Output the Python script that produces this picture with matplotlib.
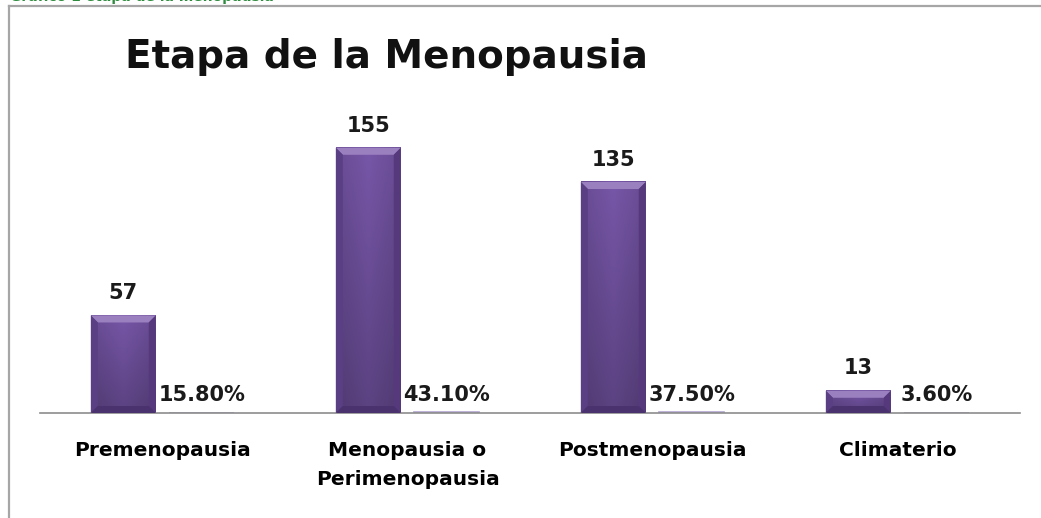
import numpy as np
import matplotlib.pyplot as plt
from matplotlib.patches import Polygon
from matplotlib.lines import Line2D
from matplotlib.colors import to_rgb

categories = ['Premenopausia', 'Menopausia o\nPerimenopausia', 'Postmenopausia', 'Climaterio']
counts = [57, 155, 135, 13]
percents = [0.158, 0.431, 0.375, 0.036]
pct_labels = ['15.80%', '43.10%', '37.50%', '3.60%']

W, H = 1041, 518
fig = plt.figure(figsize=(W / 100, H / 100), dpi=100)
ax = fig.add_axes([40 / W, 1 - 413 / H, 980 / W, (413 - 105) / H])
ax.set_xlim(-0.5, 3.5)
ax.set_ylim(0, 180)
ax.set_autoscale_on(False)

x = np.arange(len(categories))
w = 0.265
off = 0.16
base = np.array(to_rgb('#6a4d96'))

# px -> data units for the bevel
dx = 7 / 245
dy = 7 / 1.711

for xi, c in zip(x - off, counts):
    x0, x1 = xi - w / 2, xi + w / 2
    # body with soft vertical / horizontal shading
    ny, nx = 60, 30
    vy = np.linspace(1.12, 0.86, ny)[:, None]
    hx = 1 - 0.12 * np.abs(np.linspace(-1, 1, nx))[None, :]
    img = np.clip(base[None, None, :] * (vy * hx)[:, :, None], 0, 1)
    ax.imshow(img, extent=[x0, x1, 0, c], aspect='auto', zorder=2, interpolation='bilinear')
    # bevel edges
    ax.add_patch(Polygon([(x0, c), (x1, c), (x1 - dx, c - dy), (x0 + dx, c - dy)],
                         closed=True, color='#9b80c0', lw=0, zorder=3))
    ax.add_patch(Polygon([(x0, 0), (x0, c), (x0 + dx, c - dy), (x0 + dx, dy)],
                         closed=True, color='#5a3f84', lw=0, zorder=3))
    ax.add_patch(Polygon([(x1, 0), (x1, c), (x1 - dx, c - dy), (x1 - dx, dy)],
                         closed=True, color='#55397c', lw=0, zorder=3))
    ax.add_patch(Polygon([(x0, 0), (x1, 0), (x1 - dx, dy), (x0 + dx, dy)],
                         closed=True, color='#4a326e', lw=0, zorder=3))
    ax.text(xi, c + 9.5, str(c), ha='center', va='baseline', fontsize=15,
            fontweight='bold', color='#1a1a1a')

ax.bar(x + off, percents, w, color='#b3a4d0', edgecolor='#b3a4d0', linewidth=1.2, zorder=2)
for xi, lab in zip(x + off, pct_labels):
    ax.text(xi, 7.2, lab, ha='center', va='baseline', fontsize=15, fontweight='bold',
            color='#1a1a1a')

ax.set_xticks(x)
ax.set_xticklabels(categories, fontsize=14.5, fontweight='bold', linespacing=1.7)
ax.tick_params(axis='x', length=0, pad=20)
ax.set_yticks([])
for s in ['top', 'right', 'left']:
    ax.spines[s].set_visible(False)
ax.spines['bottom'].set_color('#8c8c8c')
ax.spines['bottom'].set_linewidth(1.2)
ax.patch.set_alpha(0)

fig.text(386 / W, 1 - 57 / H, 'Etapa de la Menopausia', ha='center', va='center',
         fontsize=28, fontweight='bold', color='#111111')

# clipped heading above the frame
fig.text(10 / W, 1 - 0.8 / H, 'Gráfico 1 etapa de la menopausia', ha='left', va='baseline',
         fontsize=10, fontweight='bold', color='#2e8b3e')

# outer frame
fig.add_artist(Line2D([9 / W, 1], [1 - 6 / H, 1 - 6 / H], color='#a6a6a6', lw=1.6))
fig.add_artist(Line2D([9 / W, 9 / W], [0, 1 - 6 / H], color='#a6a6a6', lw=1.6))

fig.savefig('out.png', dpi=100)
